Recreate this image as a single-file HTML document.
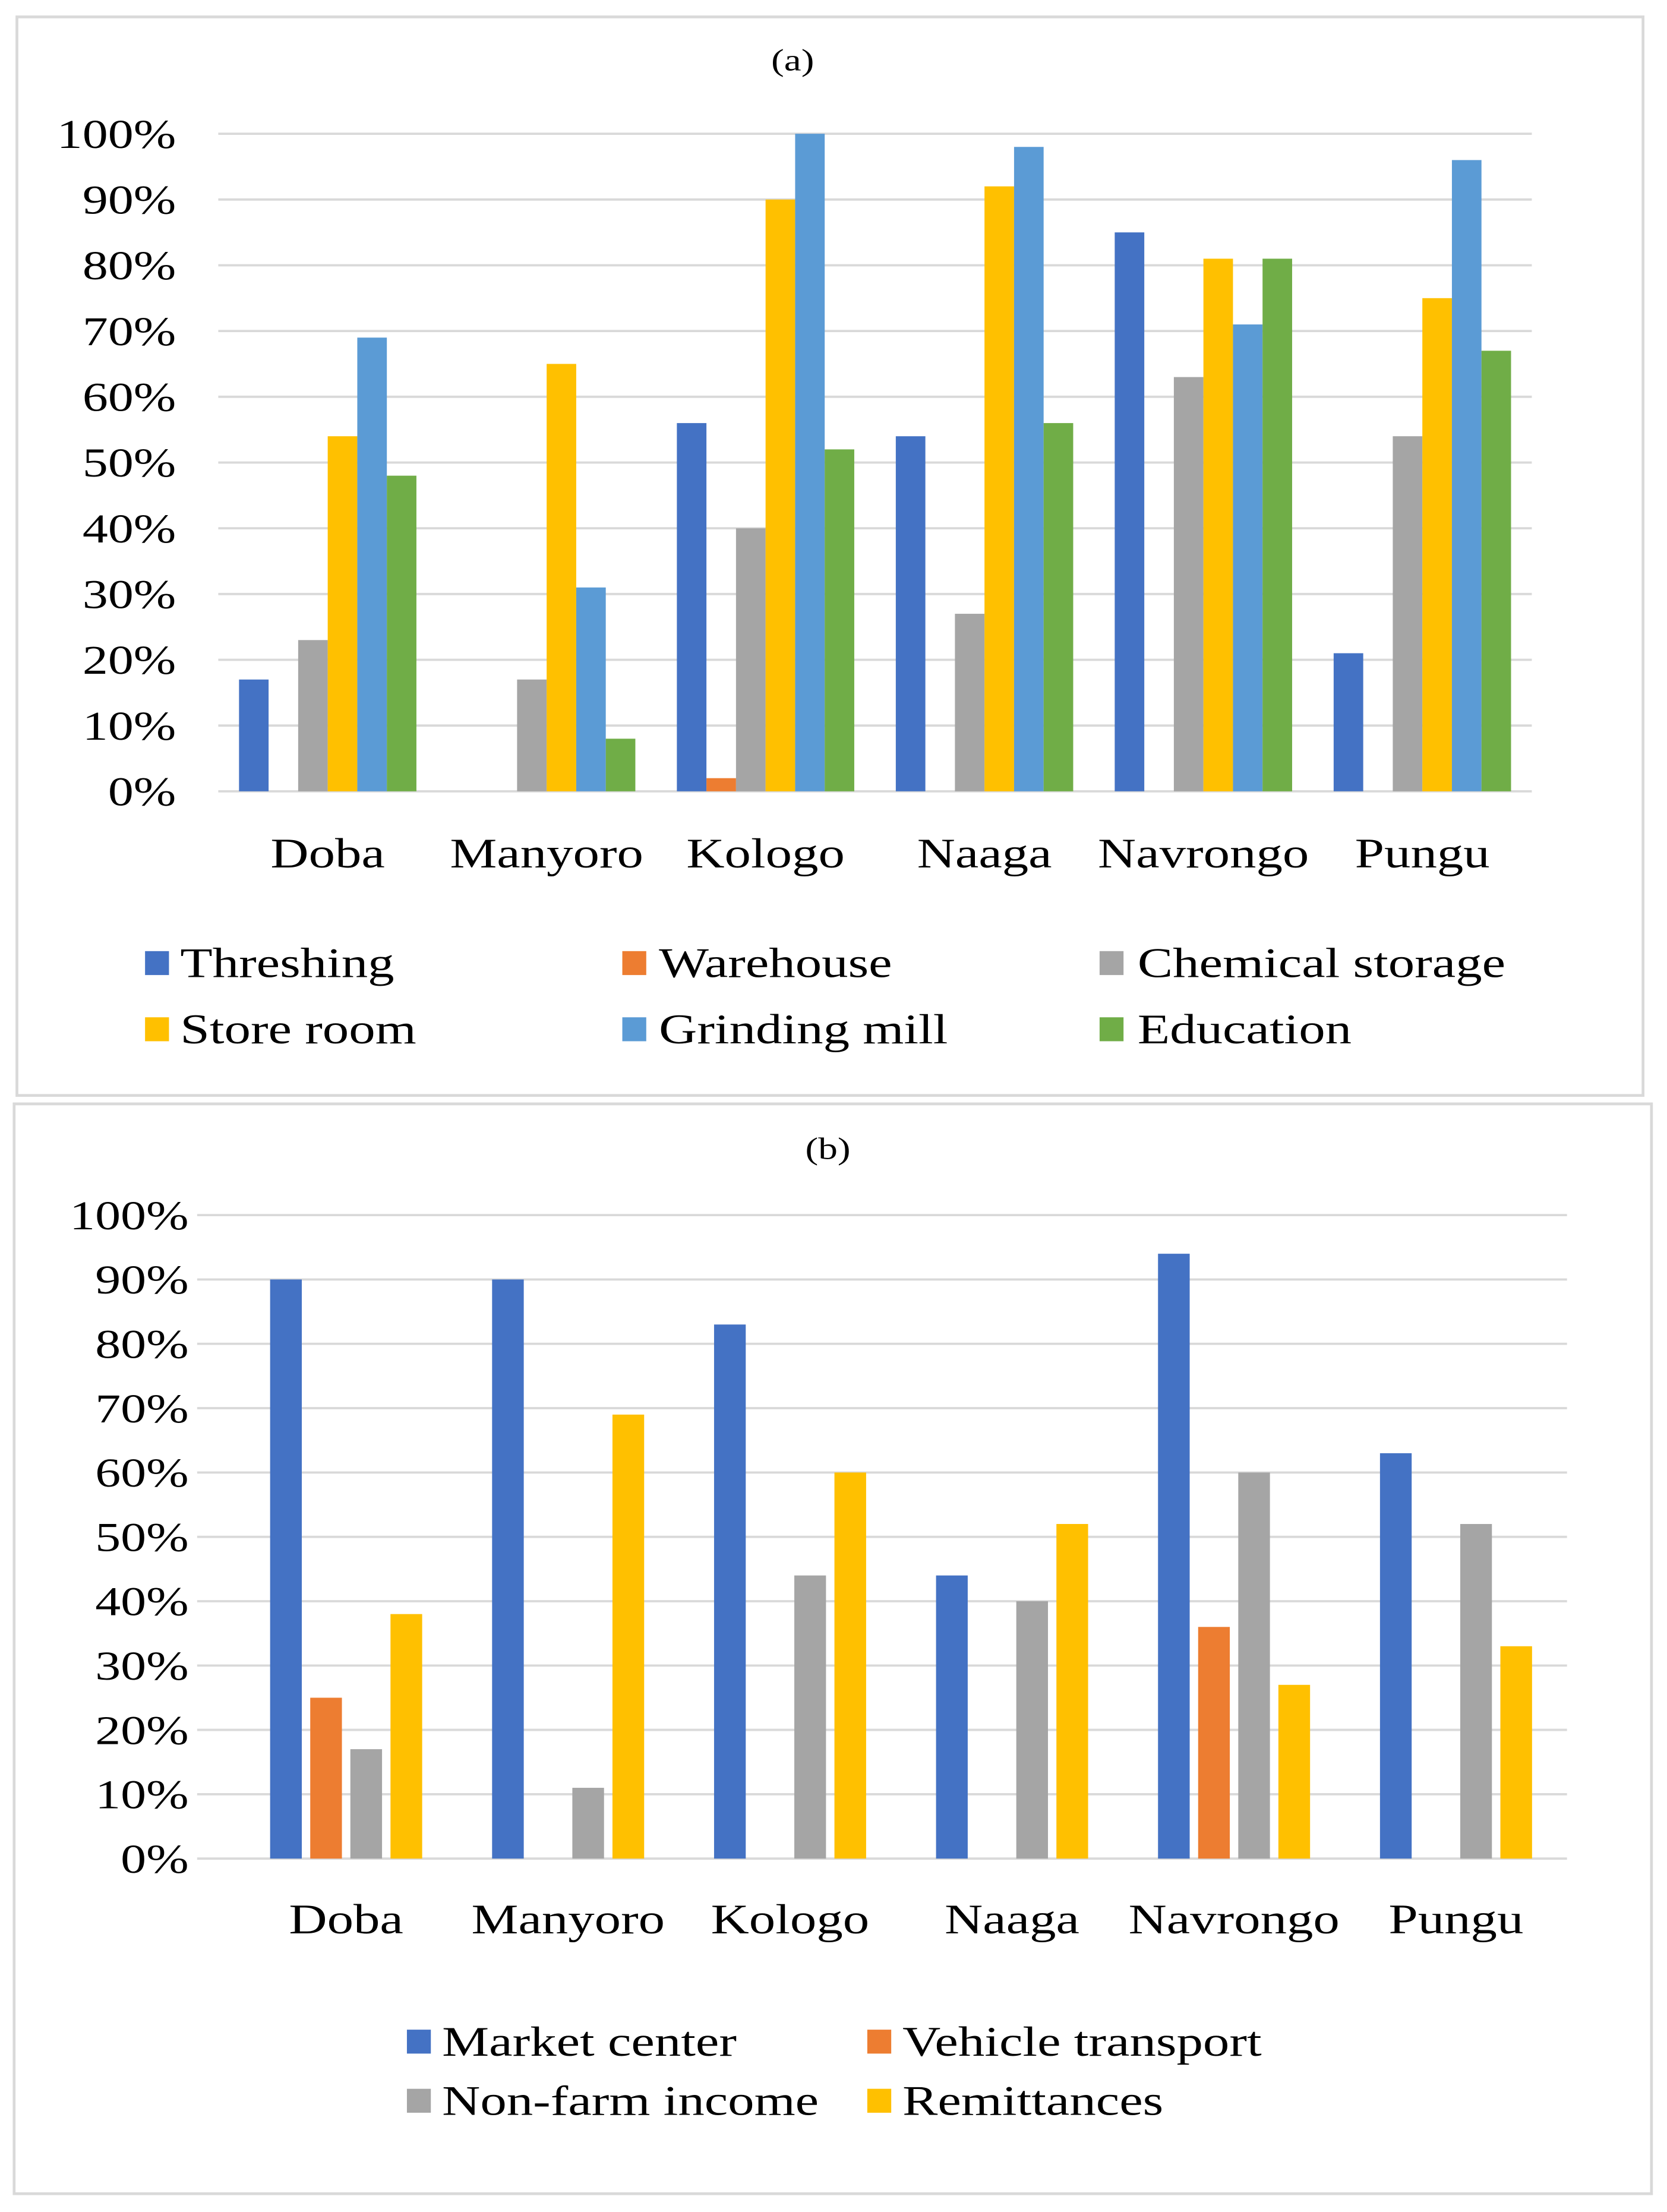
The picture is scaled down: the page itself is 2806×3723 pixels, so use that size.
<!DOCTYPE html>
<html><head><meta charset="utf-8"><style>
html,body{margin:0;padding:0;background:#fff}
svg{display:block;font-family:"Liberation Serif",serif}
</style></head><body>
<svg id="s" width="2806" height="3723" viewBox="0 0 1184 1571" xmlns="http://www.w3.org/2000/svg">
<rect x="12" y="12" width="1155" height="766" fill="#fff" stroke="#d9d9d9" stroke-width="2"/>
<rect x="10" y="784" width="1163" height="774" fill="#fff" stroke="#d9d9d9" stroke-width="2"/>
<text class="w" x="563" y="50" font-size="22" text-anchor="middle">(a)</text>
<text class="w" x="588" y="823" font-size="22" text-anchor="middle">(b)</text>
</svg>
<script>
const categories=["Doba","Manyoro","Kologo","Naaga","Navrongo","Pungu"];
const yTicks=["0%","10%","20%","30%","40%","50%","60%","70%","80%","90%","100%"];
const aNames=["Threshing","Warehouse","Chemical storage","Store room","Grinding mill","Education"];
const aThreshing=[17,0,56,54,85,21];
const aWarehouse=[0,0,2,0,0,0];
const aChemical=[23,17,40,27,63,54];
const aStore=[54,65,90,92,81,75];
const aGrinding=[69,31,100,98,71,96];
const aEducation=[48,8,52,56,81,67];
const bNames=["Market center","Vehicle transport","Non-farm income","Remittances"];
const bMarket=[90,90,83,44,94,63];
const bVehicle=[25,0,0,0,36,0];
const bNonfarm=[17,11,44,40,60,52];
const bRemit=[38,69,60,52,27,33];

const NS="http://www.w3.org/2000/svg";
const svg=document.getElementById('s');
function mk(tag,attrs,txt){const e=document.createElementNS(NS,tag);for(const k in attrs)e.setAttribute(k,attrs[k]);if(txt!==undefined){e.textContent=txt;e.setAttribute('class','w');}svg.appendChild(e);return e;}

function chart(cfg){
  const y=v=>cfg.y0-(cfg.y0-cfg.y100)*v/100;
  const cw=(cfg.cx1-cfg.cx0)/categories.length;
  yTicks.forEach((t,i)=>{
    const v=i*10;
    const g=mk('line',{x1:cfg.x0,x2:cfg.x1,y1:y(v),y2:y(v),stroke:'#d9d9d9','stroke-width':1.6});
    
    
    const l=mk('text',{x:cfg.lx,y:y(v)+10,'font-size':29,'text-anchor':'end'},t);
    
    
  });
  const n=cfg.series.length;
  categories.forEach((c,ci)=>{
    const cx=cfg.cx0+cw*(ci+0.5);
    const start=cx-cfg.pitch*n/2;
    cfg.series.forEach((s,si)=>{
      const v=s[ci];
      if(v<=0)return;
      const r=mk('rect',{x:start+si*cfg.pitch+(cfg.pitch-cfg.bw)/2,y:y(v),width:cfg.bw,height:y(0)-y(v),fill:cfg.colors[si]});
      
      
    });
    const t=mk('text',{x:cx,y:cfg.catY,'font-size':30,'text-anchor':'middle'},c);
    
    
  });
  cfg.names.forEach((nm,i)=>{
    const col=i%cfg.cols,row=Math.floor(i/cfg.cols);
    const ly=cfg.legY[row];
    const sq=mk('rect',{x:cfg.legSqX[col],y:ly-8.5,width:17,height:17,fill:cfg.colors[i]});
    
    
    const t=mk('text',{x:cfg.legTxX[col],y:ly+10,'font-size':30},nm);
    
    
  });
}
chart({x0:155,x1:1088,cx0:155,cx1:1088,y0:562,y100:95,lx:125,pitch:21,bw:21,catY:616,
  series:[aThreshing,aWarehouse,aChemical,aStore,aGrinding,aEducation],names:aNames,
  colors:['#4472c4','#ed7d31','#a5a5a5','#ffc000','#5b9bd5','#70ad47'],
  cols:3,legY:[684,731],legSqX:[103,442,781],legTxX:[128,468,808]});
chart({x0:140,x1:1113,cx0:167,cx1:1113,y0:1320,y100:863,lx:134,pitch:28.5,bw:22.5,catY:1373,
  series:[bMarket,bVehicle,bNonfarm,bRemit],names:bNames,
  colors:['#4472c4','#ed7d31','#a5a5a5','#ffc000'],
  cols:2,legY:[1450,1492],legSqX:[289,616],legTxX:[314,641]});
document.querySelectorAll('text.w').forEach(t=>{
  const w=t.getComputedTextLength();
  t.setAttribute('textLength',(w*1.25).toFixed(1));
  t.setAttribute('lengthAdjust','spacingAndGlyphs');
});
</script>
</body></html>
